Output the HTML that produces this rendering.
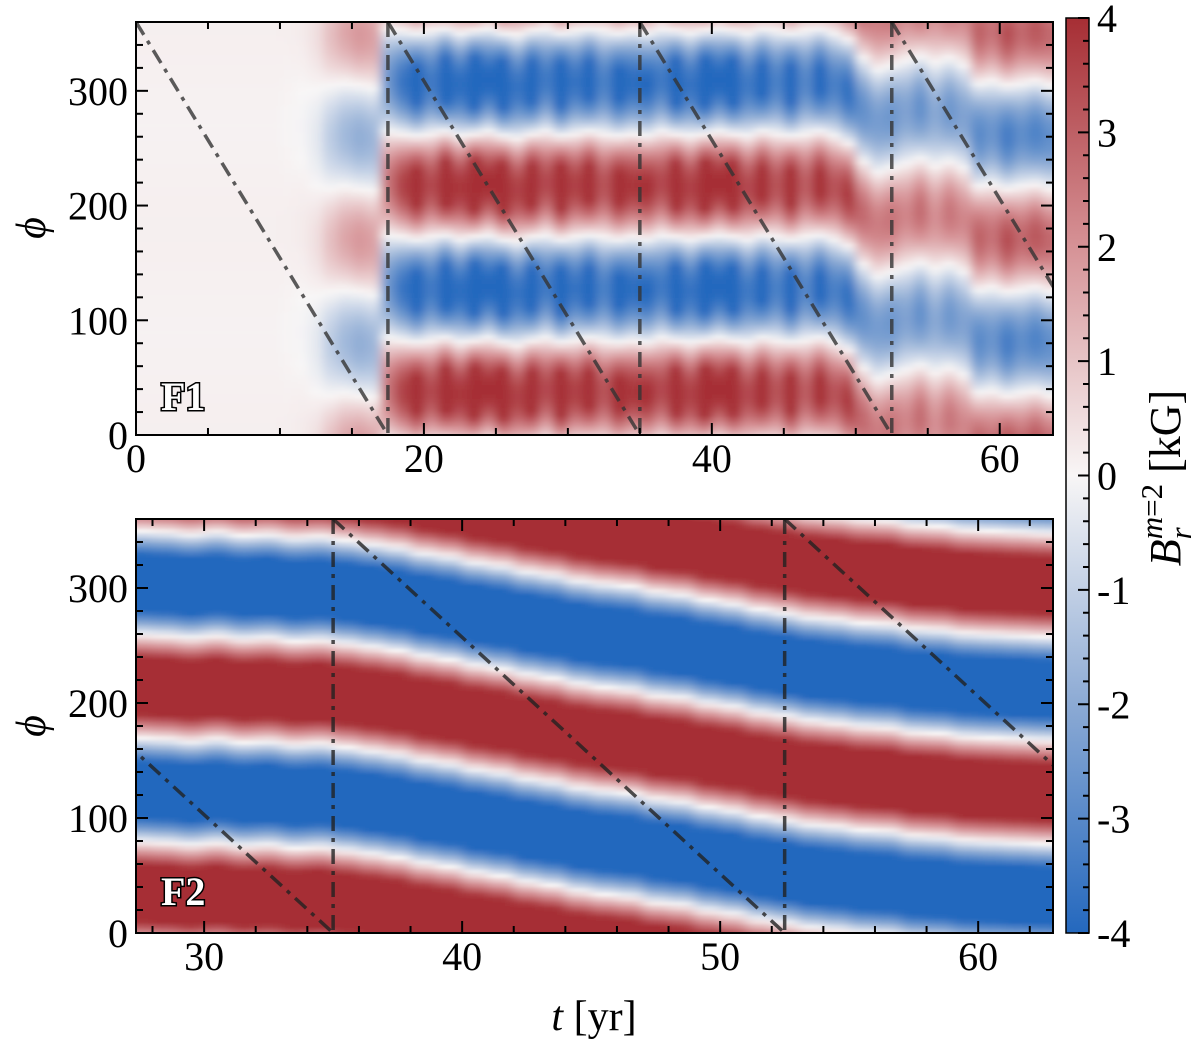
<!DOCTYPE html>
<html><head><meta charset="utf-8"><style>
html,body{margin:0;padding:0;background:#fff;}
svg text{font-family:"Liberation Serif","DejaVu Serif",serif;fill:#000;}
</style></head><body>
<svg id="fig" width="1200" height="1043" viewBox="0 0 1200 1043" xmlns="http://www.w3.org/2000/svg">
<defs>
<clipPath id="clipTop"><rect x="136" y="22" width="917" height="413"/></clipPath>
<clipPath id="clipBot"><rect x="136" y="519" width="917" height="414"/></clipPath>
<filter id="blurTop" x="-5%" y="-5%" width="110%" height="110%"><feGaussianBlur stdDeviation="5 1.5" edgeMode="duplicate"/></filter>
<filter id="blurBot" x="-5%" y="-5%" width="110%" height="110%"><feGaussianBlur stdDeviation="7 1.5" edgeMode="duplicate"/></filter>
<linearGradient id="cbGrad" x1="0" y1="1" x2="0" y2="0">
<stop offset="0" stop-color="rgb(36,104,190)"/>
<stop offset="0.25" stop-color="rgb(140,170,212)"/>
<stop offset="0.5" stop-color="rgb(248,246,246)"/>
<stop offset="0.75" stop-color="rgb(214,146,150)"/>
<stop offset="1" stop-color="rgb(166,46,52)"/>
</linearGradient>
</defs>
<g id="topHeat" clip-path="url(#clipTop)"><g id="topCells" filter="url(#blurTop)"></g></g>
<g id="botHeat" clip-path="url(#clipBot)"><g id="botCells" filter="url(#blurBot)"></g></g>
<g id="overlay"></g>
<rect x="1066" y="18" width="23" height="915" fill="url(#cbGrad)" stroke="#000" stroke-width="1.5"/>
<g id="cbTicks"></g>
<text transform="translate(1180,478) rotate(-90)" text-anchor="middle" font-size="44"><tspan font-style="italic">B</tspan><tspan font-style="italic" font-size="31" dy="11">r</tspan><tspan font-style="italic" font-size="31" dx="-12" dy="-29">m</tspan><tspan font-size="31">=2</tspan><tspan dy="18"> [kG]</tspan></text>
<text transform="translate(45,228) rotate(-90)" text-anchor="middle" font-size="42" font-style="italic">ϕ</text>
<text transform="translate(45,726) rotate(-90)" text-anchor="middle" font-size="42" font-style="italic">ϕ</text>
<text x="594" y="1030" text-anchor="middle" font-size="42"><tspan font-style="italic">t</tspan> [yr]</text>
<text x="161" y="410" font-size="40" font-weight="bold" style="fill:#fff;stroke:#000;stroke-width:3px;paint-order:stroke">F1</text>
<text x="161" y="905" font-size="40" font-weight="bold" style="fill:#fff;stroke:#000;stroke-width:3px;paint-order:stroke">F2</text>
</svg>
<script>
// ---- F1 data (yearly samples, t = 0..63) ----
const f1Times = [0,1,2,3,4,5,6,7,8,9,10,11,12,13,14,15,16,17,18,19,20,21,22,23,24,25,26,27,28,29,30,31,32,33,34,35,36,37,38,39,40,41,42,43,44,45,46,47,48,49,50,51,52,53,54,55,56,57,58,59,60,61,62,63];
const f1Amp = [0.03,0.03,0.03,0.03,0.03,0.03,0.03,0.03,0.03,0.03,0.06,0.15,0.4,1.1,1.6,1.9,1.7,2.6,3.6,4.6,3.4,5.0,3.8,5.4,4.0,5.2,3.6,4.8,3.4,5.0,3.6,4.6,3.2,4.4,3.8,4.0,3.4,5.0,3.6,5.2,4.0,5.0,3.4,4.4,3.2,4.6,3.0,4.2,3.2,3.8,2.8,2.4,2.6,2.2,2.8,2.0,2.6,2.2,3.0,2.6,3.4,2.8,3.2,2.8];
const f1Phase = [0,0,0,0,0,0,0,0,0,0,0,0,170,170,172,170,168,40,38,36,38,40,36,38,40,36,34,38,40,36,38,40,38,36,38,36,40,38,36,38,40,38,36,40,38,36,38,40,36,30,14,4,8,12,16,10,14,8,-8,-6,-10,-8,-6,-10];
const f1Offset = [0.12,0.12,0.12,0.12,0.12,0.12,0.12,0.12,0.12,0.12,0.1,0.08,0.05,0,0,0,0,0,0,0,0,0,0,0,0,0,0,0,0,0,0,0,0,0,0,0,0,0,0,0,0,0,0,0,0,0,0,0,0,0,0,0,0,0,0,0,0,0,0,0,0,0,0,0];
// ---- F2 data (yearly samples, t = 27..63) ----
const f2Times = [27,28,29,30,31,32,33,34,35,36,37,38,39,40,41,42,43,44,45,46,47,48,49,50,51,52,53,54,55,56,57,58,59,60,61,62,63];
const f2Phase = [215,214,212,214,211,212,209,210,207,204,201,196,193,188,185,180,177,172,169,167,162,160,155,152,147,144,140,138,135,134,130,129,126,125,124,123,122];
const f2Amp = [6,6,6,6,6,6,6,6,6,6,6,6,6,6,6,6,6,6,6,6,6,6,6,6,6,6,6,6,6,6,6,6,6,6,6,6,6];
// ---- ticks ----
const f1XTicks = [0,20,40,60];
const f2XTicks = [30,40,50,60];
const yTicks = [0,100,200,300];
const cbTicks = [-4,-3,-2,-1,0,1,2,3,4];
const diagStarts = [0,17.5,35,52.5];
const vertLines = [17.5,35,52.5];

const NS="http://www.w3.org/2000/svg";
function mk(tag,attrs,parent){const e=document.createElementNS(NS,tag);for(const k in attrs)e.setAttribute(k,attrs[k]);parent.appendChild(e);return e;}
const T1={x0:136,x1:1053,t0:0,t1:63.7,y0:435,y1:22};
const T2={x0:136,x1:1053,t0:27.36,t1:62.9,y0:933,y1:519};
function X(ax,t){return ax.x0+(t-ax.t0)/(ax.t1-ax.t0)*(ax.x1-ax.x0);}
function Y(ax,p){return ax.y0+(p/360)*(ax.y1-ax.y0);}
function lerp(a,b,f){return a+(b-a)*f;}
const stops=[[-4,[36,104,190]],[-2,[140,170,212]],[0,[248,246,246]],[2,[214,146,150]],[4,[166,46,52]]];
function cmap(v){v=Math.max(-4,Math.min(4,v));for(let i=0;i<stops.length-1;i++){const a=stops[i],b=stops[i+1];if(v<=b[0]){const f=(v-a[0])/(b[0]-a[0]);return 'rgb('+[0,1,2].map(k=>Math.round(lerp(a[1][k],b[1][k],f))).join(',')+')';}}return 'rgb(166,46,52)';}

function drawHeat(ax,times,amp,phase,offset,parent,name){
  const dphi=4;
  for(let i=0;i<times.length;i++){
    let xa=X(ax,times[i]), xb=X(ax,times[i]+1);
    if(i===0) xa-=40; if(i===times.length-1) xb+=40;
    for(let p=-8;p<368;p+=dphi){
      const v=(offset?offset[i]:0)+amp[i]*Math.cos(2*(p+dphi/2-phase[i])*Math.PI/180);
      const r=mk('rect',{x:xa.toFixed(2),y:(Y(ax,p+dphi)).toFixed(2),width:(xb-xa+0.6).toFixed(2),height:(Y(ax,p)-Y(ax,p+dphi)+0.6).toFixed(2),fill:cmap(v)},parent);
      
      
    }
  }
}
drawHeat(T1,f1Times,f1Amp,f1Phase,f1Offset,document.getElementById('topCells'),'f1-cell');
drawHeat(T2,f2Times,f2Amp,f2Phase,null,document.getElementById('botCells'),'f2-cell');

const ov=document.getElementById('overlay');
function refLines(ax,clip,col,tmin){
  const g=mk('g',{'clip-path':clip},ov);
  diagStarts.forEach(s=>{
    const l=mk('line',{x1:X(ax,s),y1:Y(ax,360),x2:X(ax,s+17.5),y2:Y(ax,0),stroke:col,'stroke-width':3.5,'stroke-dasharray':'15,7,4,7','stroke-opacity':0.8},g);
    
    
  });
  vertLines.filter(v=>v>tmin).forEach(s=>{
    const l=mk('line',{x1:X(ax,s),y1:Y(ax,360),x2:X(ax,s),y2:Y(ax,0),stroke:col,'stroke-width':3.5,'stroke-dasharray':'15,7,4,7','stroke-opacity':0.8},g);
    
    
  });
}
refLines(T1,'url(#clipTop)','#333',0);
refLines(T2,'url(#clipBot)','#222',30);

function axes(ax,xt,minorStep,name){
  const fr=mk('rect',{x:ax.x0,y:ax.y1,width:ax.x1-ax.x0,height:ax.y0-ax.y1,fill:'none',stroke:'#000','stroke-width':2},ov);
  
  
  for(let t=Math.ceil(ax.t0/minorStep)*minorStep;t<=ax.t1;t+=minorStep){
    const x=X(ax,t); const maj=xt.includes(t); const L=maj?12:7;
    mk('line',{x1:x,y1:ax.y0,x2:x,y2:ax.y0-L,stroke:'#000','stroke-width':2},ov);
    mk('line',{x1:x,y1:ax.y1,x2:x,y2:ax.y1+L,stroke:'#000','stroke-width':2},ov);
  }
  xt.forEach(t=>{const tx=mk('text',{x:X(ax,t),y:ax.y0+37,'text-anchor':'middle','font-size':40},ov);tx.textContent=t;
    
    });
  for(let p=0;p<=360;p+=20){
    const y=Y(ax,p); const maj=p%100===0; const L=maj?12:7;
    mk('line',{x1:ax.x0,y1:y,x2:ax.x0+L,y2:y,stroke:'#000','stroke-width':2},ov);
    mk('line',{x1:ax.x1,y1:y,x2:ax.x1-L,y2:y,stroke:'#000','stroke-width':2},ov);
  }
  yTicks.forEach(p=>{const tx=mk('text',{x:ax.x0-8,y:Y(ax,p)+14,'text-anchor':'end','font-size':40},ov);tx.textContent=p;
    
    });
}
axes(T1,f1XTicks,5,'f1');
axes(T2,f2XTicks,2,'f2');

const cb=document.getElementById('cbTicks');
const CB={y0:933,y1:18};
function CY(v){return CB.y0+(v+4)/8*(CB.y1-CB.y0);}
for(let k=-40;k<=40;k+=2){const v=k/10;const y=CY(v);const maj=(k%10===0);
  mk('line',{x1:1089,y1:y,x2:1089-(maj?11:6),y2:y,stroke:'#000','stroke-width':2},cb);}
cbTicks.forEach(v=>{const tx=mk('text',{x:1097,y:CY(v)+14,'font-size':40},cb);tx.textContent=(v<0?'-':'')+Math.abs(v);
  
  });
</script>
</body></html>
